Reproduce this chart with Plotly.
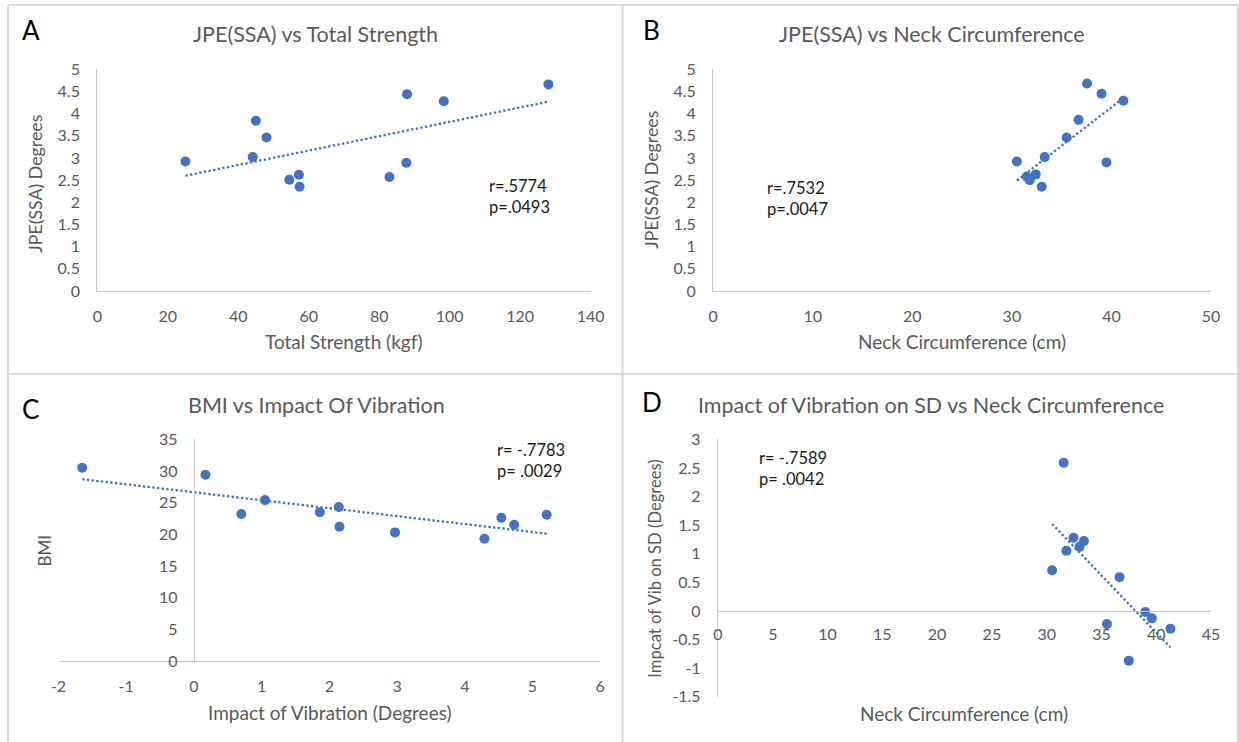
import numpy as np
import plotly.graph_objects as go

W, H = 1239, 742

# ---- data -------------------------------------------------------------
strength_kgf = [25.0, 44.1, 45.0, 48.0, 54.5, 57.2, 57.4, 82.9, 87.7, 87.9, 98.3, 128.0]
jpe_by_strength = [2.92, 3.02, 3.84, 3.46, 2.51, 2.62, 2.35, 2.57, 2.89, 4.44, 4.28, 4.66]

neck_cm_b = [30.5, 31.5, 31.8, 32.4, 33.0, 33.3, 35.5, 36.7, 37.55, 39.0, 39.5, 41.2]
jpe_by_neck = [2.92, 2.58, 2.50, 2.63, 2.35, 3.02, 3.46, 3.86, 4.68, 4.45, 2.90, 4.29]

vibration_deg = [-1.65, 0.17, 0.70, 1.05, 1.86, 2.14, 2.15, 2.97, 4.29, 4.54, 4.73, 5.21]
bmi = [30.5, 29.4, 23.2, 25.4, 23.5, 24.3, 21.2, 20.3, 19.3, 22.6, 21.5, 23.1]

neck_cm_d = [31.55, 32.45, 33.4, 33.0, 31.8, 30.5, 36.65, 39.0, 39.6, 35.5, 41.3, 37.5]
vib_sd_deg = [2.59, 1.28, 1.22, 1.12, 1.05, 0.71, 0.59, -0.02, -0.13, -0.23, -0.31, -0.87]

titles = ["JPE(SSA) vs Total Strength", "JPE(SSA) vs Neck Circumference",
          "BMI vs Impact Of Vibration", "Impact of Vibration on SD vs Neck Circumference"]
letters = ["A", "B", "C", "D"]
x_titles = ["Total Strength (kgf)", "Neck Circumference (cm)",
            "Impact of Vibration (Degrees)", "Neck Circumference (cm)"]
y_titles = ["JPE(SSA) Degrees", "JPE(SSA) Degrees", "BMI", "Impcat of Vib on SD (Degrees)"]
stats = [("r=.5774", "p=.0493"), ("r=.7532", "p=.0047"),
         ("r= -.7783", "p= .0029"), ("r= -.7589", "p= .0042")]

c_x_ticks = [-2, -1, 0, 1, 2, 3, 4, 5, 6]
c_x_labels = ["-2", "-1", "0", "1", "2", "3", "4", "5", "6"]
d_y_ticks = [-1.5, -1, -0.5, 0, 0.5, 1, 1.5, 2, 2.5, 3]
d_y_labels = ["-1.5", "-1", "-0.5", "0", "0.5", "1", "1.5", "2", "2.5", "3"]

# ---- styling ----------------------------------------------------------
FONT = "Lato"
BLUE = "#4472C4"
GREY_TXT = "#595959"
AXIS_LINE = "#C8C8C8"
BORDER = "#D9D9D9"


def px_x(p):
    return p / W


def px_y(p):
    return 1 - p / H


# plot-area boxes in pixels: (left, right, top, bottom)
boxes = [
    (97.3, 590.7, 69.3, 291.0),
    (713.2, 1211.0, 69.3, 291.0),
    (58.5, 600.2, 439.3, 661.0),
    (718.0, 1211.0, 439.3, 696.7),
]
ranges = [
    ((0, 140), (0, 5)),
    ((0, 50), (0, 5)),
    ((-2, 6), (0, 35)),
    ((0, 45), (-1.5, 3)),
]
series = [
    (strength_kgf, jpe_by_strength),
    (neck_cm_b, jpe_by_neck),
    (vibration_deg, bmi),
    (neck_cm_d, vib_sd_deg),
]

fig = go.Figure()
layout = dict(
    template="none",
    width=W, height=H, autosize=False, margin=dict(l=0, r=0, t=0, b=0, pad=0),
    paper_bgcolor="white", plot_bgcolor="white", showlegend=False,
    font=dict(family=FONT, color=GREY_TXT),
)
annotations = []
shapes = []

tick_font = dict(family=FONT, size=16, color=GREY_TXT)

for i in range(4):
    n = "" if i == 0 else str(i + 1)
    xa, ya = "x" + n, "y" + n
    left, right, top, bottom = boxes[i]
    (x0, x1), (y0, y1) = ranges[i]
    xd = [px_x(left), px_x(right)]
    yd = [px_y(bottom), px_y(top)]

    xs, ys = series[i]
    fig.add_trace(go.Scatter(
        x=xs, y=ys, mode="markers", xaxis=xa, yaxis=ya,
        marker=dict(color=BLUE, size=10, line=dict(width=0)),
    ))
    # linear trendline fitted to the points
    k, b = np.polyfit(xs, ys, 1)
    tx = np.array([min(xs), max(xs)])
    fig.add_trace(go.Scatter(
        x=tx, y=k * tx + b, mode="lines", xaxis=xa, yaxis=ya,
        line=dict(color=BLUE, width=2.3, dash="2.4px,2.3px"), hoverinfo="skip",
    ))

    xaxis = dict(domain=xd, range=[x0, x1], showgrid=False, zeroline=False,
                 showline=True, linecolor=AXIS_LINE, linewidth=1.3,
                 ticks="", tickfont=tick_font, ticklabelstandoff=11,
                 anchor=ya, fixedrange=True, automargin=False)
    yaxis = dict(domain=yd, range=[y0, y1], showgrid=False, zeroline=False,
                 showline=True, linecolor=AXIS_LINE, linewidth=1.3,
                 ticks="", tickfont=tick_font, ticklabelstandoff=13,
                 anchor=xa, fixedrange=True, automargin=False)
    if i == 0:
        xaxis["dtick"] = 20
        yaxis["dtick"] = 0.5
    elif i == 1:
        xaxis["dtick"] = 10
        yaxis["dtick"] = 0.5
    elif i == 2:
        xaxis.update(tickmode="array", tickvals=c_x_ticks, ticktext=c_x_labels)
        yaxis["dtick"] = 5
        # vertical axis crosses at x = 0
        yaxis.update(anchor="free",
                     position=xd[0] + (0 - x0) / (x1 - x0) * (xd[1] - xd[0]))
    else:
        xaxis["dtick"] = 5
        yaxis.update(tickmode="array", tickvals=d_y_ticks, ticktext=d_y_labels)
        # horizontal axis crosses at y = 0
        xaxis.update(anchor="free",
                     position=yd[0] + (0 - y0) / (y1 - y0) * (yd[1] - yd[0]),
                     ticklabelstandoff=9)
    layout["xaxis" + n] = xaxis
    layout["yaxis" + n] = yaxis

# ---- text -------------------------------------------------------------
title_pos = [(315.4, 34), (931.5, 34), (316.3, 405), (930.9, 404.5)]
letter_pos = [(30.5, 30), (651.6, 30), (30.4, 409), (652.2, 402)]
xt_pos = [(343.6, 342), (962.1, 342), (329.6, 712), (964.3, 713)]
yt_pos = [(34.8, 184), (650.8, 180), (43.5, 551), (654.7, 569)]
yt_size = [17.8, 17.8, 17, 16.6]
stat_pos = [(487, 186), (765.3, 188), (495.4, 450), (757, 457.5)]

for i in range(4):
    annotations.append(dict(
        text=titles[i], x=px_x(title_pos[i][0]), y=px_y(title_pos[i][1]),
        xref="paper", yref="paper", showarrow=False, xanchor="center", yanchor="middle",
        font=dict(family=FONT, size=21.5, color=GREY_TXT)))
    annotations.append(dict(
        text=letters[i], x=px_x(letter_pos[i][0]), y=px_y(letter_pos[i][1]),
        xref="paper", yref="paper", showarrow=False, xanchor="center", yanchor="middle",
        font=dict(family=FONT, size=26, color="black")))
    annotations.append(dict(
        text=x_titles[i], x=px_x(xt_pos[i][0]), y=px_y(xt_pos[i][1]),
        xref="paper", yref="paper", showarrow=False, xanchor="center", yanchor="middle",
        font=dict(family=FONT, size=19, color=GREY_TXT)))
    annotations.append(dict(
        text=y_titles[i], x=px_x(yt_pos[i][0]), y=px_y(yt_pos[i][1]),
        xref="paper", yref="paper", showarrow=False, xanchor="center", yanchor="middle",
        textangle=-90, font=dict(family=FONT, size=yt_size[i], color=GREY_TXT)))
    annotations.append(dict(
        text=stats[i][0] + "<br>" + stats[i][1],
        x=px_x(stat_pos[i][0]), y=px_y(stat_pos[i][1] - 12),
        xref="paper", yref="paper", showarrow=False, xanchor="left", yanchor="top",
        align="left", font=dict(family=FONT, size=16.5, color="#1a1a1a")))

# ---- panel borders ----------------------------------------------------
border_line = dict(color=BORDER, width=2)
for (xa0, ya0, xa1, ya1) in [
    (8, 5, 1238, 5),          # top
    (8, 5, 8, 742),           # left
    (1238, 5, 1238, 742),     # right
    (622.5, 5, 622.5, 742),   # middle vertical
    (8, 374, 1238, 374),      # middle horizontal
]:
    shapes.append(dict(type="line", xref="paper", yref="paper",
                       x0=px_x(xa0), y0=px_y(ya0), x1=px_x(xa1), y1=px_y(ya1),
                       line=border_line, layer="below"))

layout["annotations"] = annotations
layout["shapes"] = shapes
fig.update_layout(**layout)

# the page body gets no margin so the figure fills the window exactly
fig.write_html(
    "out.html",
    post_script="document.body.style.margin='0';document.body.style.overflow='hidden';",
)
